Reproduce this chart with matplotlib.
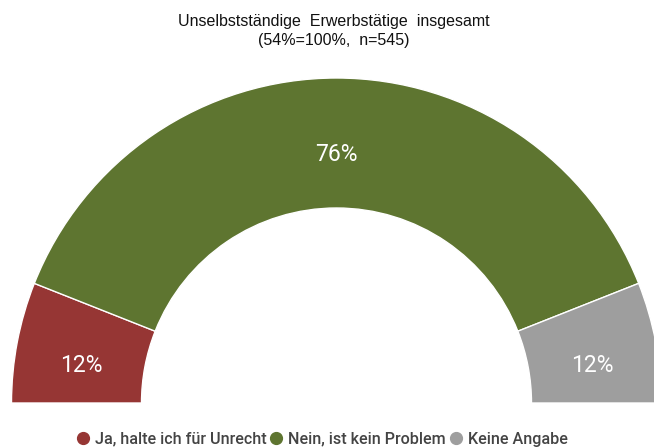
import matplotlib.pyplot as plt
from matplotlib.lines import Line2D

# data
categories = ['Ja, halte ich für Unrecht', 'Nein, ist kein Problem', 'Keine Angabe']
values = [12, 76, 12]
colors = ['#963634', '#5E7530', '#9E9E9E']
title = 'Unselbstständige  Erwerbstätige  insgesamt\n(54%=100%,  n=545)'

W, H = 654, 447
fig = plt.figure(figsize=(W / 100, H / 100), dpi=100)
ax = fig.add_axes([0, 0, 1, 1])

# half donut: pad with an invisible wedge of the same total
total = sum(values)
wedges, texts, autotexts = ax.pie(
    values + [total],
    colors=colors + ['none'],
    startangle=180,
    counterclock=False,
    radius=1,
    wedgeprops=dict(width=0.4, edgecolor='white', linewidth=1),
    autopct=lambda p: f'{p * 2:.0f}%' if p < 45 else '',
    pctdistance=0.8,
    textprops=dict(color='white', fontsize=16.5, family='Roboto'),
)
wedges[-1].set_edgecolor('none')
for t in autotexts:
    t.set_va('top')

# center of the half circle at pixel (336.5, 403), outer radius 325 px
cx, cy, R = 336.5, H - 403, 325
ax.set_xlim(-cx / R, (W - cx) / R)
ax.set_ylim(-cy / R, (H - cy) / R)
ax.set_aspect('auto')
ax.axis('off')

fig.text(0.51, 0.968, title, ha='center', va='top', fontsize=11.5,
         family='Liberation Sans', color='#111111', linespacing=1.32)

handles = [Line2D([], [], marker='o', linestyle='none', markersize=8.5,
                  markerfacecolor=c, markeredgecolor=c) for c in colors]
fig.legend(handles, categories, loc='lower center', bbox_to_anchor=(0.493, -0.032),
           ncol=3, frameon=False, handlelength=0.7, handletextpad=0.4,
           columnspacing=0.25,
           prop=dict(family='Roboto', size=11.6, weight='medium'),
           labelcolor='#444444')

fig.savefig('out.png', dpi=100)
